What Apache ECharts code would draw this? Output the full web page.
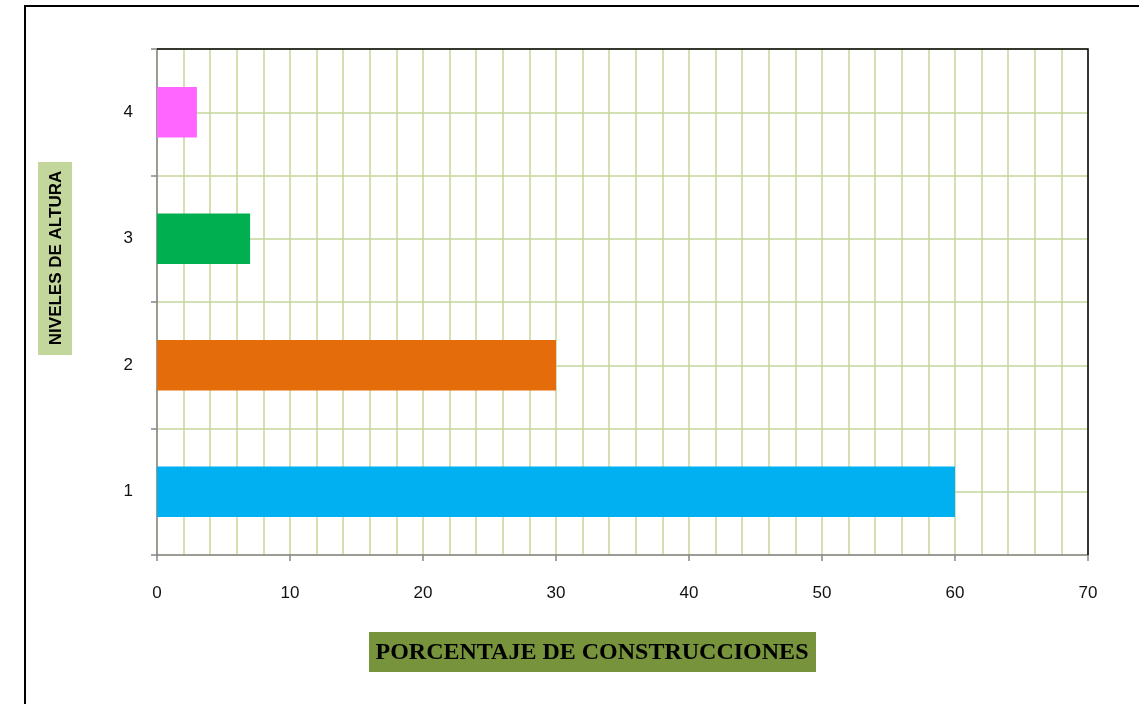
<!DOCTYPE html>
<html><head><meta charset="utf-8">
<script src="https://cdn.jsdelivr.net/npm/echarts@6/dist/echarts.min.js"></script>
<style>html,body{margin:0;padding:0;background:#fff}#c{width:1139px;height:704px}</style>
</head><body><div id="c"></div>
<script>
const categories = ['1', '2', '3', '4'];
const values = [60, 30, 7, 3];
const barColors = ['#00b0f0', '#e46c0a', '#00b050', '#ff66ff'];
const xTitle = 'PORCENTAJE DE CONSTRUCCIONES';
const yTitle = 'NIVELES DE ALTURA';

const chart = echarts.init(document.getElementById('c'), null, {renderer: 'canvas'});
const green = '#c3d69b';
chart.setOption({
  animation: false,
  backgroundColor: '#fff',
  grid: {left: 157, right: 51, top: 49, bottom: 149, show: false, containLabel: false},
  xAxis: {
    type: 'value', min: 0, max: 70, interval: 10,
    axisLine: {show: true, lineStyle: {color: '#868686', width: 1.5}},
    axisTick: {show: true, length: 6, lineStyle: {color: '#868686', width: 1.5}},
    axisLabel: {color: '#111', fontFamily: 'Liberation Sans', fontSize: 17, margin: 30},
    splitLine: {show: true, lineStyle: {color: green, width: 1.5}},
    minorTick: {show: false, splitNumber: 5},
    minorSplitLine: {show: true, lineStyle: {color: green, width: 1.5}}
  },
  yAxis: [{
    type: 'category', data: categories,
    axisLine: {show: true, lineStyle: {color: '#868686', width: 1.5}},
    axisTick: {show: true, length: 6, lineStyle: {color: '#868686', width: 1.5}},
    axisLabel: {color: '#111', fontFamily: 'Liberation Sans', fontSize: 17, margin: 24},
    splitLine: {show: false}
  }, {
    type: 'value', min: 0, max: 8, interval: 1, position: 'right',
    axisLine: {show: false}, axisTick: {show: false}, axisLabel: {show: false},
    splitLine: {show: true, lineStyle: {color: green, width: 1.5}}
  }],
  series: [{
    type: 'bar', yAxisIndex: 0, barWidth: '40%', z: 5,
    data: values.map((v, i) => ({value: v, itemStyle: {color: barColors[i]}}))
  }],
  graphic: [
    {type: 'rect', z: 100, shape: {x: 25, y: 6, width: 1200, height: 800}, style: {fill: 'none', stroke: '#000', lineWidth: 2}},
    {type: 'polyline', z: 100, shape: {points: [[157, 49], [1088, 49], [1088, 555]]}, style: {fill: 'none', stroke: '#000', lineWidth: 1.5}},
    {type: 'rect', z: 50, shape: {x: 369, y: 632, width: 447, height: 40}, style: {fill: '#77933c'}},
    {type: 'text', z: 51, x: 592, y: 653, style: {text: xTitle, fill: '#000', font: 'bold 24px "Liberation Serif"', align: 'center', verticalAlign: 'middle'}},
    {type: 'rect', z: 50, shape: {x: 38, y: 162, width: 34, height: 193}, style: {fill: '#c3d69b'}},
    {type: 'text', z: 51, x: 56, y: 258, rotation: Math.PI / 2, style: {text: yTitle, fill: '#000', font: 'bold 17px "Liberation Sans"', align: 'center', verticalAlign: 'middle'}}
  ]
});
</script></body></html>
